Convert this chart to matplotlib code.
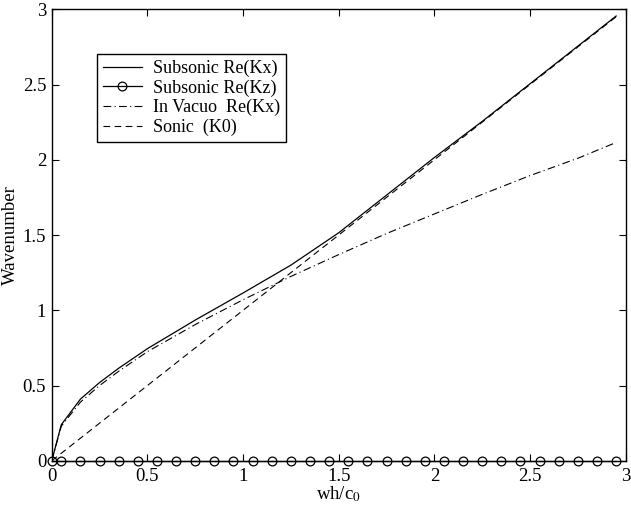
import matplotlib
matplotlib.use("Agg")
import matplotlib.pyplot as plt

# frequency points (wh/c0) where curves were read
freq = [0, 0.05, 0.15, 0.25, 0.35, 0.5, 0.75, 1.0, 1.25, 1.5, 1.75, 2.0, 2.25, 2.5, 2.75, 2.95]

subsonic_kx = [0, 0.24, 0.41, 0.52, 0.615, 0.745, 0.935, 1.115, 1.30, 1.515, 1.765, 2.015, 2.255, 2.505, 2.755, 2.955]
invacuo_kx = [0, 0.23, 0.39, 0.50, 0.595, 0.725, 0.905, 1.07, 1.225, 1.37, 1.51, 1.64, 1.77, 1.895, 2.01, 2.115]
sonic_k0 = [0, 0.05, 0.15, 0.25, 0.35, 0.5, 0.75, 1.0, 1.25, 1.5, 1.75, 2.0, 2.25, 2.5, 2.75, 2.95]

# Kz sampled at the marker positions
freq_kz = [0, 0.05, 0.15, 0.25, 0.35, 0.45, 0.55, 0.65, 0.75, 0.85, 0.95, 1.05, 1.15, 1.25, 1.35, 1.45,
           1.55, 1.65, 1.75, 1.85, 1.95, 2.05, 2.15, 2.25, 2.35, 2.45, 2.55, 2.65, 2.75, 2.85, 2.95]
subsonic_kz = [0] * len(freq_kz)

plt.rcParams['font.family'] = ['Liberation Serif', 'DejaVu Serif']
plt.rcParams['mathtext.fontset'] = 'stix'

fig = plt.figure(figsize=(6.31, 5.14), dpi=100)
ax = fig.add_axes([0.082, 0.1035, 0.9096, 0.8785])

ax.plot(freq, subsonic_kx, color='black', lw=0.9, label='Subsonic Re(Kx)')
ax.plot(freq_kz, subsonic_kz, color='black', lw=0.9, marker='o', markersize=6.3,
        markerfacecolor='none', markeredgewidth=0.9, label='Subsonic Re(Kz)', clip_on=False)
ax.plot(freq, invacuo_kx, color='black', lw=0.8, linestyle=(0, (7, 3, 1, 3)), label='In Vacuo  Re(Kx)')
ax.plot(freq, sonic_k0, color='black', lw=0.8, linestyle=(0, (6, 4)), label='Sonic  (K0)')

ax.set_xlim(0, 3)
ax.set_ylim(0, 3)
ax.set_xticks([0, 0.5, 1, 1.5, 2, 2.5, 3])
ax.set_xticklabels(['0', '0.5', '1', '1.5', '2', '2.5', '3'])
ax.set_yticks([0, 0.5, 1, 1.5, 2, 2.5, 3])
ax.set_yticklabels(['0', '0.5', '1', '1.5', '2', '2.5', '3'])
ax.tick_params(direction='in', top=True, right=True, length=5, width=0.8, labelsize=13.5)
ax.tick_params(axis='x', pad=5)
ax.tick_params(axis='y', pad=4)
for s in ax.spines.values():
    s.set_linewidth(1.0)

ax.set_xlabel('wh/c$_0$', fontsize=13.5, labelpad=0)
ax.set_ylabel('Wavenumber', fontsize=13.5, labelpad=3)

leg = ax.legend(loc='upper left', bbox_to_anchor=(0.079, 0.9), fancybox=False, framealpha=1,
                edgecolor='black', fontsize=13, handlelength=2.2, borderpad=0.3,
                labelspacing=0.13, handletextpad=0.6, borderaxespad=0)
leg.get_frame().set_linewidth(1.0)

fig.savefig('out.png', dpi=100)
